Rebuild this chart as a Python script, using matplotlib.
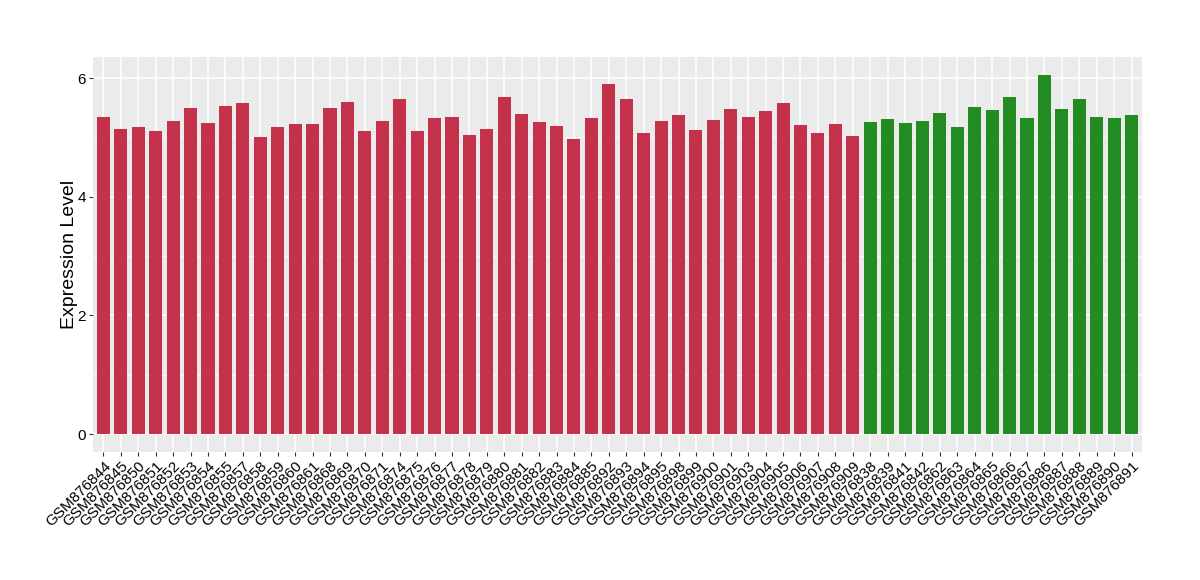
import matplotlib
matplotlib.use("Agg")
import matplotlib.pyplot as plt
import numpy as np

plt.rcParams['font.family'] = ['Liberation Sans', 'DejaVu Sans']

red_samples = ["GSM876844", "GSM876845", "GSM876850", "GSM876851", "GSM876852",
               "GSM876853", "GSM876854", "GSM876855", "GSM876857", "GSM876858",
               "GSM876859", "GSM876860", "GSM876861", "GSM876868", "GSM876869",
               "GSM876870", "GSM876871", "GSM876874", "GSM876875", "GSM876876",
               "GSM876877", "GSM876878", "GSM876879", "GSM876880", "GSM876881",
               "GSM876882", "GSM876883", "GSM876884", "GSM876885", "GSM876892",
               "GSM876893", "GSM876894", "GSM876895", "GSM876898", "GSM876899",
               "GSM876900", "GSM876901", "GSM876903", "GSM876904", "GSM876905",
               "GSM876906", "GSM876907", "GSM876908", "GSM876909"]
red_values = [5.34, 5.14, 5.17, 5.11, 5.28, 5.49, 5.24, 5.53, 5.58, 5.01,
              5.17, 5.23, 5.23, 5.49, 5.60, 5.11, 5.28, 5.65, 5.11, 5.33,
              5.34, 5.04, 5.14, 5.68, 5.40, 5.26, 5.19, 4.97, 5.33, 5.90,
              5.65, 5.07, 5.28, 5.38, 5.12, 5.29, 5.48, 5.34, 5.44, 5.58,
              5.21, 5.07, 5.23, 5.02]

green_samples = ["GSM876838", "GSM876839", "GSM876841", "GSM876842", "GSM876862",
                 "GSM876863", "GSM876864", "GSM876865", "GSM876866", "GSM876867",
                 "GSM876886", "GSM876887", "GSM876888", "GSM876889", "GSM876890",
                 "GSM876891"]
green_values = [5.26, 5.31, 5.24, 5.28, 5.41, 5.17, 5.51, 5.46, 5.68, 5.33,
                6.05, 5.48, 5.65, 5.34, 5.33, 5.38]

samples = red_samples + green_samples
values = red_values + green_values
colors = ["#C3324A"] * len(red_samples) + ["#228B22"] * len(green_samples)

fig = plt.figure(figsize=(12, 5.8), dpi=100)
ax = fig.add_axes([0.0775, 0.2207, 0.8742, 0.681])
ax.set_facecolor("#EBEBEB")

x = np.arange(len(samples))
ax.bar(x, values, width=0.75, color=colors, zorder=3)

ax.set_xlim(-0.6, len(samples) - 0.4)
ax.set_ylim(-0.303, 6.354)
ax.set_yticks([0, 2, 4, 6])
ax.set_yticks([1, 3, 5], minor=True)
ax.set_xticks(x)
ax.set_xticklabels(samples, rotation=45, ha="right", rotation_mode="anchor", fontsize=11)
ax.tick_params(axis="y", which="major", labelsize=11, length=3, color="#333333", labelcolor="#000000", pad=2)
ax.tick_params(axis="y", which="minor", length=0)
ax.tick_params(axis="x", length=3, color="#333333", pad=2)

ax.grid(which="major", color="white", linewidth=1.1, zorder=0)
ax.grid(which="minor", axis="y", color="white", linewidth=0.5, zorder=0)
for s in ax.spines.values():
    s.set_visible(False)

ax.set_ylabel("Expression Level", fontsize=14, labelpad=0)

fig.savefig("out.png", dpi=100)
